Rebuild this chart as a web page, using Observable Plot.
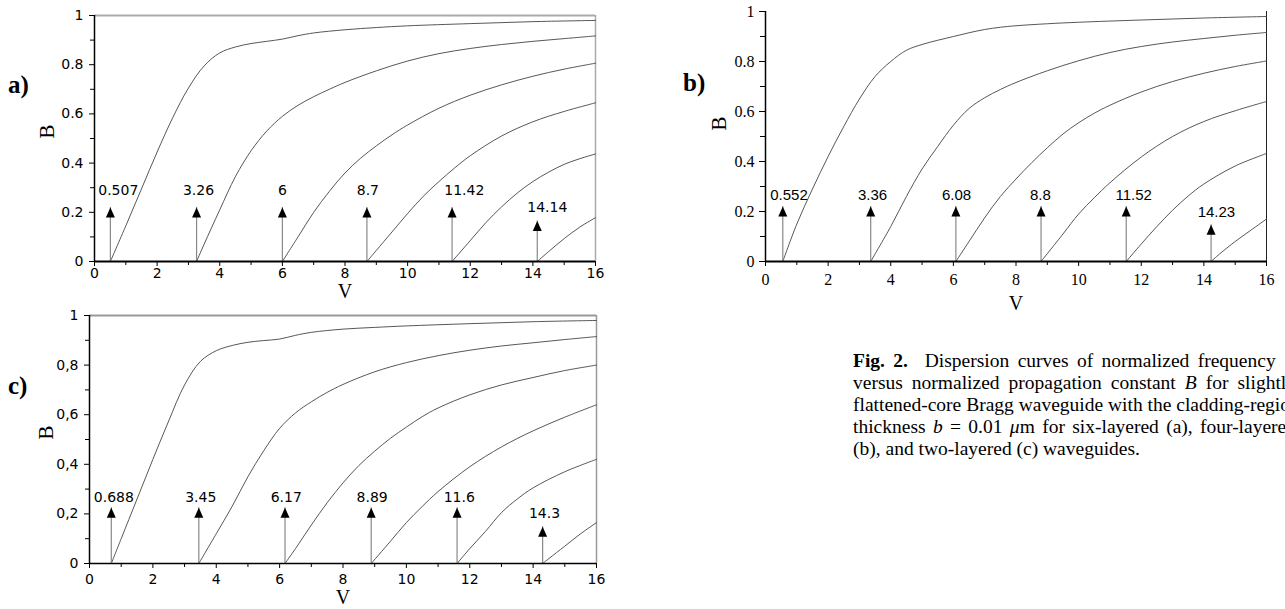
<!DOCTYPE html>
<html>
<head>
<meta charset="utf-8">
<script src="https://cdn.jsdelivr.net/npm/d3@7"></script>
<script src="https://cdn.jsdelivr.net/npm/@observablehq/plot@0.6"></script>
<style>
  html, body { margin: 0; padding: 0; background: #fff; }
  body { width: 1285px; height: 609px; overflow: hidden; position: relative; }
  .panel { position: absolute; }
  .tag { position: absolute; font-family: "Liberation Serif", serif; font-weight: bold; font-size: 25px; line-height: 25px; color: #000; }
  .caption { position: absolute; left: 853px; top: 350px; width: 443px; font-family: "Liberation Serif", serif; font-size: 19.5px; line-height: 22px; color: #000; }
  .caption .ln { text-align: justify; text-align-last: justify; white-space: nowrap; }
  .caption .last { text-align: left; white-space: nowrap; }
</style>
</head>
<body>
<div class="tag" style="left:8px;top:72px">a)</div>
<div class="tag" style="left:683px;top:70px">b)</div>
<div class="tag" style="left:8px;top:373px">c)</div>
<div class="caption">
  <div class="ln"><b>Fig. 2.</b>&nbsp; Dispersion curves of normalized frequency <i>V</i></div>
  <div class="ln">versus normalized propagation constant <i>B</i> for slightly</div>
  <div class="ln">flattened-core Bragg waveguide with the cladding-region</div>
  <div class="ln">thickness <i>b</i> = 0.01 <i>μ</i>m for six-layered (a), four-layered</div>
  <div class="last">(b), and two-layered (c) waveguides.</div>
</div>
<script>
// ---------- axis ticks ----------
const xMajorTicks = [0, 2, 4, 6, 8, 10, 12, 14, 16];
const xMinorTicks = [1, 3, 5, 7, 9, 11, 13, 15];
const yMajorTicks = [0, 0.2, 0.4, 0.6, 0.8, 1];
const yMinorTicks = [0.1, 0.3, 0.5, 0.7, 0.9];

// ---------- panel a (six-layered) ----------
const cutoffsA = [0.507, 3.26, 6, 8.7, 11.42, 14.14];
const arrowTipA = [0.22, 0.22, 0.22, 0.22, 0.22, 0.165];
const labelVA = [0.76, 3.32, 6.0, 8.73, 11.81, 14.46];
const labelBA = [0.29, 0.29, 0.29, 0.29, 0.29, 0.22];
const a1 = [[0.507,0],[1,0.145],[1.5,0.295],[2,0.445],[2.5,0.585],[3,0.705],[3.5,0.795],[4,0.848],[4.5,0.872],[5,0.886],[5.5,0.895],[6,0.904],[6.5,0.918],[7,0.929],[8,0.942],[9,0.951],[10,0.958],[12,0.967],[14,0.975],[16,0.98]];
const a2 = [[3.26,0],[3.5,0.07],[4,0.21],[4.5,0.345],[5,0.45],[5.5,0.53],[6,0.59],[6.5,0.635],[7,0.67],[7.5,0.7],[8,0.728],[9,0.775],[10,0.815],[11,0.845],[12,0.866],[13,0.882],[14,0.895],[15,0.906],[16,0.917]];
const a3 = [[6,0],[6.5,0.1],[7,0.2],[7.5,0.285],[8,0.36],[8.5,0.42],[9,0.47],[9.5,0.515],[10,0.555],[11,0.623],[12,0.676],[13,0.718],[14,0.753],[15,0.782],[16,0.806]];
const a4 = [[8.7,0],[9,0.045],[9.5,0.12],[10,0.195],[10.5,0.265],[11,0.325],[11.5,0.38],[12,0.43],[13,0.51],[14,0.568],[15,0.61],[16,0.645]];
const a5 = [[11.42,0],[12,0.085],[12.5,0.158],[13,0.222],[13.5,0.278],[14,0.325],[14.5,0.363],[15,0.395],[15.5,0.418],[16,0.437]];
const a6 = [[14.14,0],[14.5,0.04],[15,0.093],[15.5,0.14],[16,0.178]];

// ---------- panel b (four-layered) ----------
const cutoffsB = [0.552, 3.36, 6.08, 8.8, 11.52, 14.23];
const arrowTipB = [0.22, 0.22, 0.22, 0.22, 0.22, 0.147];
const labelVB = [0.75, 3.42, 6.1, 8.78, 11.76, 14.4];
const labelBB = [0.267, 0.267, 0.267, 0.267, 0.267, 0.196];
const b1 = [[0.552,0],[1,0.15],[1.5,0.29],[2,0.42],[2.5,0.54],[3,0.65],[3.5,0.74],[4,0.80],[4.5,0.845],[5,0.868],[5.5,0.885],[6,0.9],[6.5,0.915],[7,0.928],[7.5,0.937],[8,0.943],[9,0.951],[10,0.957],[12,0.966],[14,0.974],[16,0.98]];
const b2 = [[3.36,0],[4,0.14],[4.5,0.26],[5,0.37],[5.5,0.46],[6,0.545],[6.5,0.612],[7,0.655],[7.5,0.688],[8,0.716],[9,0.763],[10,0.803],[11,0.836],[12,0.86],[13,0.878],[14,0.892],[15,0.905],[16,0.916]];
const b3 = [[6.08,0],[6.5,0.08],[7,0.175],[7.5,0.26],[8,0.33],[8.5,0.395],[9,0.455],[9.5,0.51],[10,0.555],[10.5,0.593],[11,0.625],[12,0.678],[13,0.72],[14,0.753],[15,0.78],[16,0.802]];
const b4 = [[8.8,0],[9.5,0.11],[10,0.19],[10.5,0.255],[11,0.315],[12,0.418],[13,0.5],[14,0.56],[15,0.603],[16,0.64]];
const b5 = [[11.52,0],[12,0.07],[12.5,0.14],[13,0.205],[13.5,0.262],[14,0.31],[15,0.382],[16,0.432]];
const b6 = [[14.23,0],[14.5,0.03],[15,0.08],[15.5,0.125],[16,0.17]];

// ---------- panel c (two-layered) ----------
const cutoffsC = [0.688, 3.45, 6.17, 8.89, 11.6, 14.3];
const arrowTipC = [0.225, 0.225, 0.225, 0.225, 0.225, 0.148];
const labelVC = [0.77, 3.51, 6.21, 8.92, 11.67, 14.36];
const labelBC = [0.266, 0.266, 0.266, 0.266, 0.266, 0.2];
const c1 = [[0.688,0],[1,0.1],[1.5,0.26],[2,0.42],[2.5,0.575],[3,0.72],[3.5,0.815],[4,0.858],[4.5,0.879],[5,0.892],[5.5,0.899],[6,0.905],[6.5,0.92],[7,0.932],[8,0.945],[9,0.952],[10,0.958],[12,0.967],[14,0.975],[16,0.98]];
const c2 = [[3.45,0],[4,0.12],[4.5,0.23],[5,0.35],[5.5,0.455],[6,0.545],[6.5,0.607],[7,0.652],[7.5,0.69],[8,0.722],[9,0.773],[10,0.81],[11,0.838],[12,0.86],[13,0.877],[14,0.89],[15,0.903],[16,0.915]];
const c3 = [[6.17,0],[6.5,0.06],[7,0.155],[7.5,0.245],[8,0.325],[8.5,0.395],[9,0.453],[9.5,0.505],[10,0.55],[10.5,0.592],[11,0.627],[12,0.68],[13,0.72],[14,0.75],[15,0.778],[16,0.8]];
const c4 = [[8.89,0],[9.5,0.09],[10,0.165],[10.5,0.23],[11,0.29],[12,0.39],[13,0.47],[14,0.535],[15,0.59],[16,0.64]];
const c5 = [[11.6,0],[12,0.06],[12.5,0.13],[13,0.205],[13.5,0.26],[14,0.305],[15,0.37],[16,0.42]];
const c6 = [[14.3,0],[14.5,0.02],[15,0.07],[15.5,0.12],[16,0.165]];

// ---------- drawing ----------
const arrowHead = {
  draw(ctx) { ctx.moveTo(0, 0); ctx.lineTo(-4.5, 10); ctx.lineTo(4.5, 10); ctx.closePath(); }
};

function makePanel(cfg) {
  const rows = cfg.curves.flatMap((pts, k) => pts.map(([v, b]) => ({mode: k, v, b})));
  const arrows = cfg.cutoffs.map((c, i) => ({
    v: c, tip: cfg.tips[i], lv: cfg.labelV[i], lb: cfg.labelB[i], text: String(c)
  }));
  const fmt = d => cfg.comma ? String(d).replace(".", ",") : String(d);
  const marks = [
    ...(cfg.topLine ? [Plot.ruleY([1], {stroke: cfg.borderColor, strokeWidth: cfg.topWidth})] : []),
    Plot.ruleX([16], {y1: 0, y2: 1, stroke: cfg.borderColor, strokeWidth: cfg.rightWidth}),
    Plot.line(rows, {x: "v", y: "b", z: "mode", curve: "catmull-rom", stroke: "#444", strokeWidth: 0.9}),
    Plot.ruleX(arrows, {x: "v", y1: 0, y2: "tip", stroke: "#888", strokeWidth: 1.2}),
    Plot.dot(arrows, {x: "v", y: "tip", symbol: arrowHead, fill: "#000", stroke: null, r: 5}),
    Plot.text(arrows, {x: "lv", y: "lb", text: "text", fontFamily: cfg.arrowFont, fontSize: cfg.arrowSize, fill: "#000"}),
    Plot.axisX(xMajorTicks, {tickSize: cfg.xTickSize, tickPadding: cfg.xPad, tickFormat: d => String(d), label: null, stroke: "#000"}),
    Plot.axisX(xMinorTicks, {tickSize: cfg.xTickSize - 1, tickFormat: () => "", label: null, stroke: "#000"}),
    Plot.axisY(yMajorTicks, {tickSize: cfg.yTickSize, tickPadding: cfg.yPad, tickFormat: fmt, label: null, stroke: "#000"}),
    Plot.axisY(yMinorTicks, {tickSize: cfg.yTickSize - 1, tickFormat: () => "", label: null, stroke: "#000"}),
    Plot.ruleY([0], {stroke: "#000", strokeWidth: cfg.bottomWidth}),
    Plot.ruleX([0], {stroke: "#000", strokeWidth: 1.5}),
    Plot.text(["B"], {frameAnchor: "left", dx: cfg.bDx, dy: cfg.bDy, rotate: -90, text: d => d,
      fontFamily: "Liberation Serif", fontSize: 21, fill: "#000"}),
    Plot.text(["V"], {frameAnchor: "bottom", dy: cfg.vDy, lineAnchor: "middle", text: d => d,
      fontFamily: "Liberation Serif", fontSize: 20, fill: "#000"})
  ];
  const svg = Plot.plot({
    width: cfg.width, height: cfg.height,
    marginLeft: cfg.ml, marginRight: cfg.mr, marginTop: cfg.mt, marginBottom: cfg.mb,
    x: {domain: [0, 16], label: null},
    y: {domain: [0, 1], label: null},
    style: {fontFamily: cfg.tickFont, fontSize: cfg.tickSize + "px", color: "#000", background: "transparent", overflow: "visible"},
    marks
  });
  svg.classList.add("panel");
  svg.style.left = cfg.left + "px";
  svg.style.top = cfg.top + "px";
  svg.style.position = "absolute";
  document.body.appendChild(svg);
}

makePanel({
  left: 0, top: 0, width: 640, height: 305, ml: 94, mr: 45, mt: 15, mb: 44,
  curves: [a1, a2, a3, a4, a5, a6], cutoffs: cutoffsA, tips: arrowTipA, labelV: labelVA, labelB: labelBA,
  tickFont: "DejaVu Sans", tickSize: 14, arrowFont: "DejaVu Sans", arrowSize: 14, comma: false,
  xTickSize: 5, xPad: 2, yTickSize: 5, yPad: 6, bottomWidth: 2,
  topLine: true, borderColor: "#aaa", topWidth: 2, rightWidth: 1.5,
  bDx: -47, bDy: 0, vDy: 30
});

makePanel({
  left: 640, top: 0, width: 645, height: 315, ml: 125, mr: 19, mt: 11, mb: 54,
  curves: [b1, b2, b3, b4, b5, b6], cutoffs: cutoffsB, tips: arrowTipB, labelV: labelVB, labelB: labelBB,
  tickFont: "Liberation Serif", tickSize: 16, arrowFont: "Liberation Sans", arrowSize: 15, comma: false,
  xTickSize: 5, xPad: 7, yTickSize: 6, yPad: 5, bottomWidth: 2.2,
  topLine: false, borderColor: "#222", topWidth: 1, rightWidth: 1,
  bDx: -46, bDy: -6, vDy: 42
});

makePanel({
  left: 0, top: 305, width: 640, height: 304, ml: 89, mr: 44, mt: 10, mb: 46,
  curves: [c1, c2, c3, c4, c5, c6], cutoffs: cutoffsC, tips: arrowTipC, labelV: labelVC, labelB: labelBC,
  tickFont: "DejaVu Sans", tickSize: 14, arrowFont: "DejaVu Sans", arrowSize: 14, comma: true,
  xTickSize: 5, xPad: 6, yTickSize: 5, yPad: 6, bottomWidth: 1.6,
  topLine: true, borderColor: "#999", topWidth: 2, rightWidth: 1.5,
  bDx: -43, bDy: 0, vDy: 34
});
</script>
</body>
</html>
